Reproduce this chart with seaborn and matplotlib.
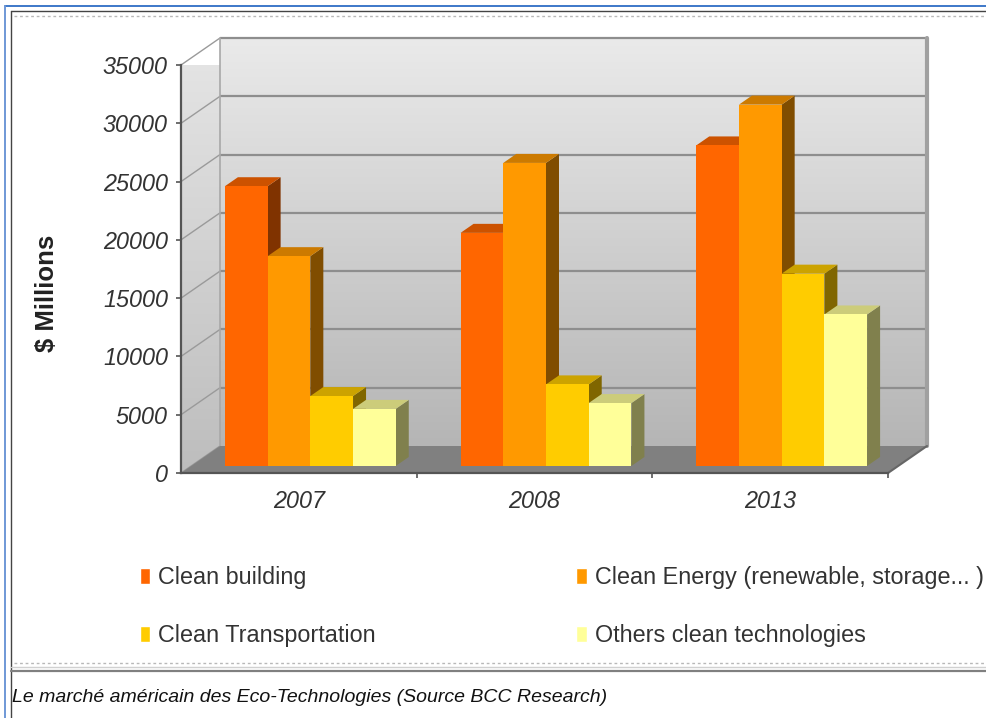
import numpy as np
import pandas as pd
import matplotlib
matplotlib.use("Agg")
import matplotlib.pyplot as plt
import matplotlib.transforms as mtransforms
from matplotlib.colors import LinearSegmentedColormap, to_rgb
from matplotlib.patches import Polygon
from matplotlib.lines import Line2D
import seaborn as sns

# ---------------- data ----------------
years = ["2007", "2008", "2013"]
series = ["Clean building", "Clean Energy (renewable, storage... )",
          "Clean Transportation", "Others clean technologies"]
clean_building = [24000, 20000, 27500]
clean_energy = [18000, 26000, 31000]
clean_transport = [6000, 7000, 16500]
others_clean = [4900, 5400, 13000]
series_colors = ["#FF6600", "#FF9900", "#FFCC00", "#FFFF99"]
yticks = [0, 5000, 10000, 15000, 20000, 25000, 30000, 35000]
y_max = 35000
caption = "Le marché américain des Eco-Technologies (Source BCC Research)"
ylabel = "$ Millions"

df = pd.DataFrame({
    "year": years * 4,
    "series": [s for s in series for _ in years],
    "value": clean_building + clean_energy + clean_transport + others_clean,
})

# ---------------- style ----------------
sns.set_theme(style="white")
plt.rcParams["font.family"] = ["Liberation Sans", "DejaVu Sans"]

W, H = 986, 718
fig = plt.figure(figsize=(W / 100, H / 100), dpi=100)

# front axis frame (pixel positions, image coordinates)
AX_L, AX_R, AX_TOP, AX_BOT = 181, 888, 65, 473
ax = fig.add_axes([AX_L / W, 1 - AX_BOT / H, (AX_R - AX_L) / W, (AX_BOT - AX_TOP) / H])
ax.set_facecolor("none")

px_x = 3.0 / (AX_R - AX_L)          # data units per pixel
px_y = y_max / (AX_BOT - AX_TOP)

sns.barplot(data=df, x="year", y="value", hue="series", order=years,
            hue_order=series, palette=series_colors, width=0.725,
            saturation=1, ax=ax)
handles, labels = ax.get_legend_handles_labels()
if ax.get_legend() is not None:
    ax.get_legend().remove()

# depth offsets
ox, oy = 39 * px_x, 27 * px_y        # back wall
bdx, bdy = 13 * px_x, 9 * px_y       # bar depth
bar_tr = mtransforms.offset_copy(ax.transData, fig=fig, x=11.5, y=7, units="dots")

# ---------------- walls ----------------
grad = np.linspace(0, 1, 256).reshape(-1, 1)
wall_cmap = LinearSegmentedColormap.from_list("wall", ["#eaeaea", "#b5b5b5"])
im = ax.imshow(grad, extent=(-0.5 + ox, 2.5 + ox, oy, y_max + oy), origin="upper",
               aspect="auto", cmap=wall_cmap, zorder=0, interpolation="bilinear")
im.set_clip_on(False)

left_wall = Polygon([(-0.5, 0), (-0.5 + ox, oy), (-0.5 + ox, y_max + oy), (-0.5, y_max)],
                    closed=True, transform=ax.transData)
lw_cmap = LinearSegmentedColormap.from_list("lwall", ["#e6e6e6", "#bdbdbd"])
im2 = ax.imshow(grad, extent=(-0.5, -0.5 + ox, 0, y_max + oy), origin="upper",
                aspect="auto", cmap=lw_cmap, zorder=0, interpolation="bilinear")
im2.set_clip_path(left_wall)

# grid lines on back wall and left wall
for v in yticks[1:]:
    ax.plot([-0.5 + ox, 2.5 + ox], [v + oy, v + oy], color="#8e8e8e", lw=1.6,
            zorder=1, clip_on=False, solid_capstyle="butt")
for v in yticks:
    ax.plot([-0.5, -0.5 + ox], [v, v + oy], color="#9a9a9a", lw=1.0,
            zorder=1, clip_on=False)
ax.plot([-0.5 + ox] * 2, [oy, y_max + oy], color="#a8a8a8", lw=1.2, zorder=1, clip_on=False)
ax.plot([2.5 + ox] * 2, [oy, y_max + oy], color="#a0a0a0", lw=3, zorder=1, clip_on=False)

# floor
floor = Polygon([(-0.5, 0), (2.5, 0), (2.5 + ox, oy), (-0.5 + ox, oy)], closed=True,
                facecolor="#808080", edgecolor="none", zorder=2, clip_on=False)
ax.add_patch(floor)
ax.plot([2.5, 2.5 + ox], [0, oy], color="#666666", lw=1.5, zorder=3, clip_on=False)

# ---------------- 3D bars ----------------
def shade(c, f):
    r, g, b = to_rgb(c)
    return (r * f, g * f, b * f)

bars = [p for cont in ax.containers for p in cont]
bars.sort(key=lambda p: p.get_x())
for p in bars:
    x0, w, h = p.get_x(), p.get_width(), p.get_height()
    fc = p.get_facecolor()
    p.set_transform(bar_tr)
    p.set_edgecolor("none")
    p.set_linewidth(0)
    p.set_zorder(5)
    p.set_clip_on(False)
    side = Polygon([(x0 + w, 0), (x0 + w + bdx, bdy), (x0 + w + bdx, h + bdy), (x0 + w, h)],
                   closed=True, facecolor=shade(fc, 0.5), edgecolor="none",
                   transform=bar_tr, zorder=4, clip_on=False)
    top = Polygon([(x0, h), (x0 + bdx, h + bdy), (x0 + w + bdx, h + bdy), (x0 + w, h)],
                  closed=True, facecolor=shade(fc, 0.8), edgecolor="none",
                  transform=bar_tr, zorder=4, clip_on=False)
    ax.add_patch(side)
    ax.add_patch(top)

# ---------------- axes ----------------
ax.set_xlim(-0.5, 2.5)
ax.set_ylim(0, y_max)
for s in ["top", "right"]:
    ax.spines[s].set_visible(False)
for s in ["left", "bottom"]:
    ax.spines[s].set_visible(True)
    ax.spines[s].set_color("#555555")
    ax.spines[s].set_linewidth(1.6)
    ax.spines[s].set_zorder(6)

ax.set_yticks(yticks)
ax.set_yticklabels([str(v) for v in yticks])
ax.tick_params(axis="y", which="major", left=True, length=3.6, width=1.2, color="#555555",
               pad=5.8, labelsize=16.8, labelcolor="#333333", direction="out")
ax.set_xticks([0, 1, 2])
ax.set_xticklabels(years)
ax.tick_params(axis="x", which="major", bottom=True, length=0, pad=12, labelsize=16.8,
               labelcolor="#333333")
ax.set_xticks([0.5, 1.5, 2.5], minor=True)
ax.tick_params(axis="x", which="minor", bottom=True, length=3.6, width=1.2,
               color="#555555", direction="out")
for t in ax.get_xticklabels() + ax.get_yticklabels():
    t.set_fontstyle("italic")
ax.set_xlabel("")
ax.set_ylabel("")
ax.grid(False)

fig.text(47 / W, 1 - 293 / H, ylabel, rotation=90, ha="center", va="center",
         fontsize=18.5, fontweight="bold", color="#222222", parse_math=False)

# ---------------- legend (row-wise order, 2 columns) ----------------
order = [0, 2, 1, 3]
fig.legend([handles[i] for i in order], [labels[i] for i in order], ncol=2,
           loc="upper left", bbox_to_anchor=(140 / W, 1 - 566 / H), frameon=False,
           fontsize=16.8, handlelength=0.43, handleheight=0.64, handletextpad=0.35,
           columnspacing=8.6, labelspacing=1.5, borderpad=0, borderaxespad=0,
           labelcolor="#333333")

# ---------------- frame decorations ----------------
def fline(x, y, **kw):
    fig.add_artist(Line2D([xx / W for xx in x], [1 - yy / H for yy in y], **kw))

fline([5, W], [6, 6], color="#3d78c9", lw=1.4)
fline([5, 5], [6, H], color="#6f98d6", lw=1.4)
fline([11, W], [11, 11], color="#444444", lw=1.0)
fline([11, 11], [11, H], color="#444444", lw=1.0)
fline([14, W], [16, 16], color="#b8b8b8", lw=1.0, ls=(0, (2, 2)))
fline([14, W], [663, 663], color="#b8b8b8", lw=1.0, ls=(0, (2, 2)))
fline([11, W], [667, 667], color="#d0d0d0", lw=1.0)
fline([11, W], [671, 671], color="#808080", lw=1.6)

fig.text(12 / W, 1 - 702 / H, caption, ha="left", va="baseline", fontsize=14,
         fontstyle="italic", color="#111111")

fig.savefig("out.png", dpi=100)
